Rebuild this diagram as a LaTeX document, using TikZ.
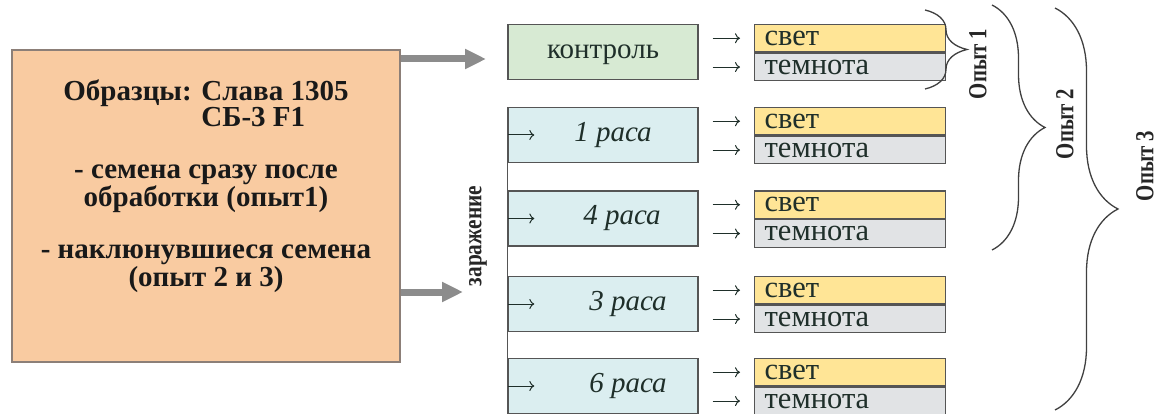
\documentclass[tikz,border=0pt]{standalone}
\usepackage{fontspec}
\setmainfont{Liberation Serif}
\usetikzlibrary{arrows.meta,decorations.pathreplacing,positioning}

\definecolor{peach}{HTML}{F9CBA1}
\definecolor{peachline}{HTML}{8C7F78}
\definecolor{ctrlgreen}{HTML}{D7EAD3}
\definecolor{racecyan}{HTML}{DBEEF0}
\definecolor{lightyellow}{HTML}{FFE596}
\definecolor{darkgray}{HTML}{E1E3E5}
\definecolor{frame}{HTML}{555555}
\definecolor{arrowgray}{HTML}{8C8C8C}
\definecolor{ink}{HTML}{1F2F2A}

\begin{document}
\begin{tikzpicture}[x=1pt,y=-1pt,
    box/.style={draw=frame, line width=1.3pt, inner sep=0pt, minimum width=190pt,
        minimum height=55pt, text=ink, text height=13pt, text depth=0pt},
    row/.style={draw=frame, line width=1.3pt, inner xsep=10pt, inner ysep=0pt,
        minimum height=27.5pt, text width=171pt, align=left, text=ink,
        font=\fontsize{30.5}{31}\selectfont, text height=14pt, text depth=0pt},
    thinarr/.style={line width=1pt, ink, -{To[length=5pt,width=10pt]}},
    bigarrow/.style={line width=7pt, arrowgray, -{Triangle[length=21pt,width=19pt]}},
    curly/.style={line width=1.3pt, black!75, decorate},
    expt/.style={rotate=90, inner sep=0pt, font=\bfseries\fontsize{26}{26}\selectfont, text=black!85}]
    \useasboundingbox (0,0) rectangle (1157,414);

    % Samples
    \node[draw=peachline, line width=1.3pt, fill=peach, minimum width=388pt,
        minimum height=312pt] (samples) at (206,206) {};
    \node[align=center, font=\bfseries\fontsize{29}{23}\selectfont, text=black!90]
        (sampletext) at (206,186)
        {Образцы: Слава 1305\\
         \hphantom{Образцы: }\rlap{СБ-3 F1}\hphantom{Слава 1305}\\[29pt]
         - семена сразу после\\ обработки (опыт1)\\[29pt]
         - наклюнувшиеся семена\\ (опыт 2 и 3)};

    % Control and races
    \node[box, fill=ctrlgreen, font=\fontsize{29}{29}\selectfont] (kontrol) at (603,52) {контроль};
    \foreach \r/\y/\tx in {1/135/613, 4/218.5/622, 3/304/628, 6/386/628} {
        \node[box, fill=racecyan] (race\r) at (603,\y) {};
        \node[font=\itshape\fontsize{29}{29}\selectfont, text=ink, text height=13pt,
            text depth=0pt, inner sep=0pt] (racetext\r) at (\tx,\y) {\r{} раса};
        \draw[thinarr] (race\r.west) -- ([xshift=27pt]race\r.west);
    }
    \draw[frame, line width=1.5pt] (race1.north west) -- (race6.south west);
    \node[rotate=90, font=\bfseries\fontsize{26}{26}\selectfont, text=black!85, inner sep=0pt]
        (infect) at (478,236) {\scalebox{0.82}[1]{заражение}};

    % Big arrows from samples
    \coordinate (toptip) at (486,59);
    \coordinate (lowtip) at (463,292);
    \draw[bigarrow] (samples.east |- toptip) -- (toptip);
    \draw[bigarrow] (samples.east |- lowtip) -- (lowtip);

    % Light / dark rows
    \foreach \g/\src in {1/kontrol, 2/race1, 3/race4, 4/race3, 5/race6} {
        \node[row, fill=lightyellow, anchor=north west] (svet\g) at (754,0 |- \src.north) {свет};
        \node[row, fill=darkgray, below=0pt of svet\g] (dark\g) {темнота};
        \draw[thinarr, shorten <=14pt, shorten >=14pt] (\src.east |- svet\g.west) -- (svet\g.west);
        \draw[thinarr, shorten <=14pt, shorten >=14pt] (\src.east |- dark\g.west) -- (dark\g.west);
    }

    % Braces
    \draw[curly, decoration={brace, amplitude=42pt}] (925,10) -- (925,89);
    \draw[curly, decoration={brace, amplitude=53pt}] (992,5) -- (992,250);
    \draw[curly, decoration={brace, amplitude=63pt}] (1055,8) -- (1055,410);
    \node[expt] (exp1) at (978,64) {\scalebox{0.8}[1]{Опыт 1}};
    \node[expt] (exp2) at (1065,124) {\scalebox{0.8}[1]{Опыт 2}};
    \node[expt] (exp3) at (1145,166) {\scalebox{0.8}[1]{Опыт 3}};
\end{tikzpicture}
\end{document}
